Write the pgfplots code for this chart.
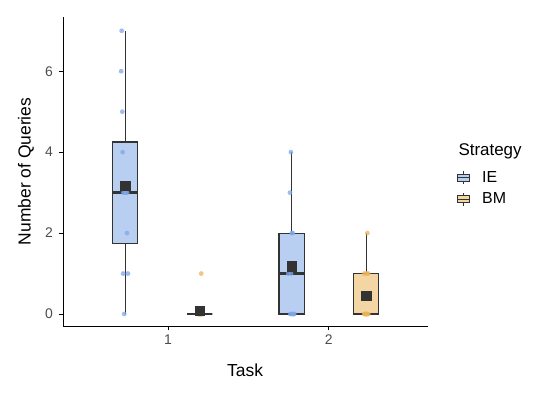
\documentclass[border=0pt]{standalone}
\usepackage{fontspec}
\setmainfont{Liberation Sans}
\usepackage{pgfplots}
\pgfplotsset{compat=1.18}
\usepgfplotslibrary{statistics}
\definecolor{ieblue}{HTML}{7DA7E8}
\definecolor{bmorange}{HTML}{E9B458}
\definecolor{boxline}{HTML}{333333}

\pgfplotsset{boxglyph/.style={legend image code/.code={
    \draw[##1] (0bp,-3.7bp) rectangle (12bp,3.7bp);
    \draw[##1] (0bp,0bp) -- (12bp,0bp);
    \draw[##1] (6bp,3.7bp) -- (6bp,6.3bp);
    \draw[##1] (6bp,-3.7bp) -- (6bp,-6.3bp);}}}

\begin{document}
\begin{tikzpicture}
\path[use as bounding box] (0,0) rectangle (548bp,397bp);
\begin{axis}[
  at={(63bp,71bp)}, anchor=south west,
  width=365bp, height=309bp, scale only axis,
  xmin=0.346, xmax=2.617, ymin=-0.296, ymax=7.34,
  axis lines=left,
  axis line style={-, line width=0.9bp, black},
  xtick={1,2}, ytick={0,2,4,6},
  tick align=outside, major tick length=4.3bp,
  tick style={black, line width=0.9bp},
  /pgf/number format/assume math mode=true,
  ticklabel style={font=\fontsize{14}{16}\selectfont, text=black!70},
  yticklabel style={inner sep=5.5bp},
  xticklabel style={inner sep=4bp},
  xlabel={Task}, ylabel={Number of Queries},
  label style={font=\fontsize{17.5}{20}\selectfont},
  xlabel style={at={(axis description cs:0.499,-0.165)}, anchor=base},
  ylabel style={at={(axis description cs:-0.0885,0.5)}, anchor=base},
  legend cell align=left,
  legend style={at={(1.079,0.445)}, anchor=west, draw=none, fill=none,
    inner sep=0pt, row sep=5bp, font=\fontsize{16}{18}\selectfont,
    /tikz/every odd column/.append style={column sep=10bp}},
  boxplot/draw direction=y,
  boxplot/every median/.style={line width=2.4bp},
  clip=false,
]
% legend glyphs
\addlegendimage{boxglyph, draw=boxline, fill=ieblue, fill opacity=0.55, line width=1.1bp}
\addlegendimage{boxglyph, draw=boxline, fill=bmorange, fill opacity=0.55, line width=1.1bp}
\legend{IE,BM}

% jittered raw points
\addplot[only marks, mark=*, mark size=2.4bp, color=ieblue,
  mark options={draw opacity=0, fill opacity=0.75}] coordinates {
  (0.727,0) (0.720,1) (0.750,1) (0.744,2) (0.738,3) (0.730,3)
  (0.745,3) (0.722,3) (0.717,4) (0.715,5) (0.708,6) (0.711,7)
  (1.780,0) (1.770,0) (1.760,0) (1.785,0) (1.775,0) (1.748,1)
  (1.765,1) (1.770,2) (1.775,2) (1.758,3) (1.764,4)};
\addplot[only marks, mark=*, mark size=2.4bp, color=bmorange,
  mark options={draw opacity=0, fill opacity=0.75}] coordinates {
  (1.185,0) (1.190,0) (1.195,0) (1.200,0) (1.205,0) (1.210,0)
  (1.215,0) (1.192,0) (1.202,0) (1.208,0) (1.198,0) (1.206,1)
  (2.220,0) (2.225,0) (2.230,0) (2.235,0) (2.240,0) (2.245,0)
  (2.228,0) (2.220,1) (2.235,1) (2.245,1) (2.240,2)};

% boxes
\addplot[boxplot prepared={draw position=0.733, lower whisker=0,
  lower quartile=1.75, median=3, upper quartile=4.25, upper whisker=7,
  box extend=0.156, whisker extend=0},
  draw=boxline, fill=ieblue, fill opacity=0.55, line width=1.1bp] coordinates {};
\addplot[boxplot prepared={draw position=1.198, lower whisker=0,
  lower quartile=0, median=0, upper quartile=0, upper whisker=0,
  box extend=0.156, whisker extend=0},
  draw=boxline, fill=bmorange, fill opacity=0.55, line width=1.1bp] coordinates {};
\addplot[boxplot prepared={draw position=1.768, lower whisker=0,
  lower quartile=0, median=1, upper quartile=2, upper whisker=4,
  box extend=0.156, whisker extend=0},
  draw=boxline, fill=ieblue, fill opacity=0.55, line width=1.1bp] coordinates {};
\addplot[boxplot prepared={draw position=2.232, lower whisker=0,
  lower quartile=0, median=0, upper quartile=1, upper whisker=2,
  box extend=0.156, whisker extend=0},
  draw=boxline, fill=bmorange, fill opacity=0.55, line width=1.1bp] coordinates {};

% means
\addplot[only marks, mark=square*, mark size=4.6bp, color=boxline] coordinates {
  (0.733,3.167) (1.198,0.083) (1.768,1.182) (2.232,0.455)};
\end{axis}
\node[anchor=base west, font=\fontsize{17}{20}\selectfont] at (455bp,241.3bp) {Strategy};
\end{tikzpicture}
\end{document}
